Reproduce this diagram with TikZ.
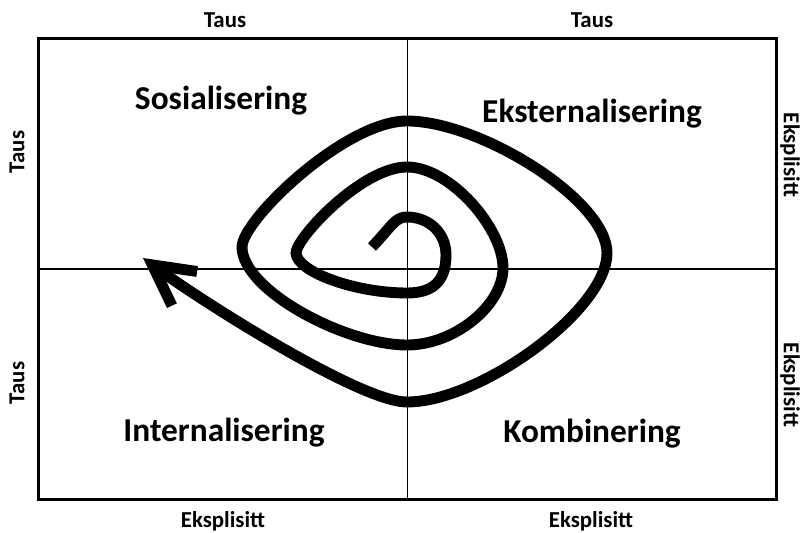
\documentclass[tikz,border=0pt]{standalone}
\usepackage{fontspec}
\setmainfont{Carlito}
\usetikzlibrary{arrows.meta, positioning}

\begin{document}
\begin{tikzpicture}[x=0.02cm, y=-0.02cm,
    quadrant/.style={font=\bfseries\fontsize{19}{22}\selectfont},
    side/.style={font=\bfseries\fontsize{13}{15}\selectfont},
    spiral/.style={line width=6.2pt, -{Straight Barb[length=0.8cm, width=0.85cm]}}]
    \useasboundingbox (0,0) rectangle (804,533);

    % Frame and dividers
    \node[draw, line width=1.7pt, minimum width=14.78cm, minimum height=9.24cm, inner sep=0pt] (frame) at (407.5,269) {};
    \draw[line width=0.8pt] (frame.north) -- (frame.south);
    \draw[line width=0.8pt] (frame.west) -- (frame.east);

    % Edge labels
    \node[side] (topL) at (225,20) {Taus};
    \node[side] (topR) at (592,20) {Taus};
    \node[side] (botL) at (223,521) {Eksplisitt};
    \node[side] (botR) at (591,521) {Eksplisitt};
    \node[side, rotate=90] (leftU) at (17,152) {Taus};
    \node[side, rotate=90] (leftD) at (17,383) {Taus};
    \node[side, rotate=-90] (rightU) at (790,155) {Eksplisitt};
    \node[side, rotate=-90] (rightD) at (790,385) {Eksplisitt};

    % Quadrant names
    \node[quadrant] (sos) at (221,101) {Sosialisering};
    \node[quadrant] (eks) at (592,114) {Eksternalisering};
    \node[quadrant] (int) at (224,433) {Internalisering};
    \node[quadrant] (kom) at (592,434) {Kombinering};

    % Spiral
    \draw[spiral] (372,247) .. controls (392,226) and (395,217) .. (407,217)
        .. controls (428,217) and (446,232) .. (446,255)
        .. controls (446,282) and (432,293) .. (407,293)
        .. controls (355,293) and (297,272) .. (296,253)
        .. controls (296,238) and (362,167) .. (407,167)
        .. controls (450,167) and (503,228) .. (503,268)
        .. controls (503,305) and (455,345) .. (407,345)
        .. controls (345,345) and (242,290) .. (242,247)
        .. controls (242,220) and (345,121) .. (407,121)
        .. controls (480,121) and (607,200) .. (607,253)
        .. controls (607,310) and (480,402) .. (407,402)
        .. controls (360,402) and (200,300) .. (143,258);
\end{tikzpicture}
\end{document}
